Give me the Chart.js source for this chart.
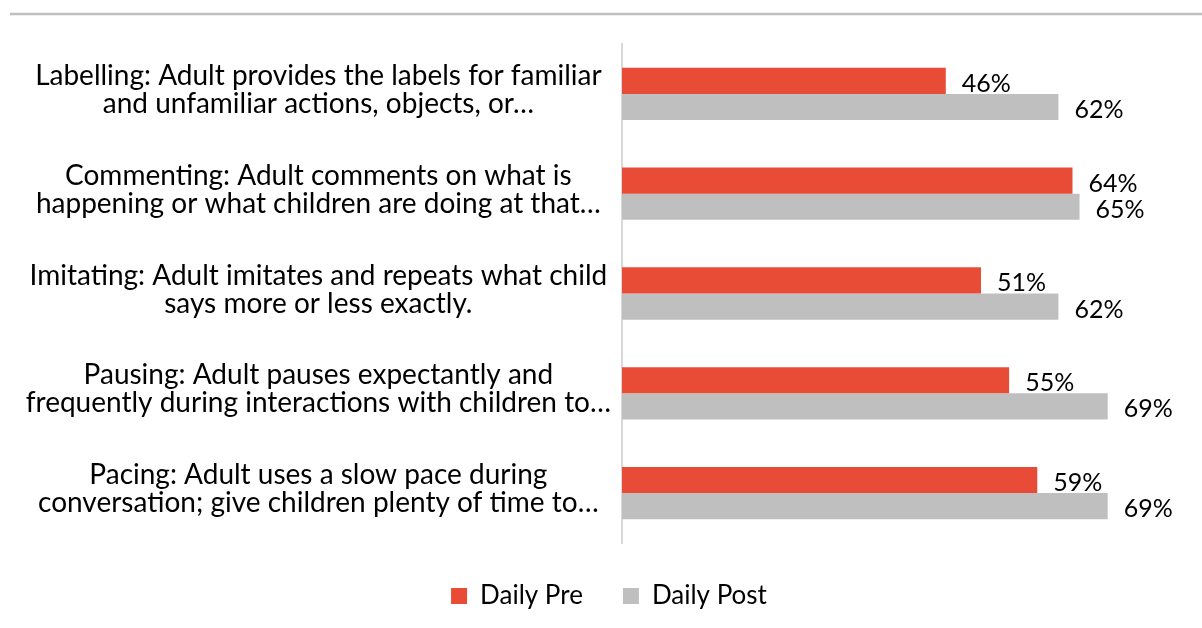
<!DOCTYPE html>
<html>
<head>
<meta charset="utf-8">
<title>Daily Pre / Daily Post</title>
<script src="https://cdn.jsdelivr.net/npm/chart.js@4.4.1/dist/chart.umd.min.js"></script>
<style>
  html, body { margin: 0; padding: 0; background: #ffffff; }
  #wrap { width: 1202px; height: 628px; position: relative; }
</style>
</head>
<body>
<div id="wrap"><canvas id="strategyChart"></canvas></div>
<script>
// Categorías (dos líneas cada una) y valores en porcentaje
const categories = [
    ['Labelling: Adult provides the labels for familiar', 'and unfamiliar actions, objects, or…'],
    ['Commenting: Adult comments on what is', 'happening or what children are doing at that…'],
    ['Imitating: Adult imitates and repeats what child', 'says more or less exactly.'],
    ['Pausing: Adult pauses expectantly and', 'frequently during interactions with children to…'],
    ['Pacing: Adult uses a slow pace during', 'conversation; give children plenty of time to…']
];
const seriesNames = ['Daily Pre', 'Daily Post'];
const dailyPre = [46, 64, 51, 55, 59];
const dailyPost = [62, 65, 62, 69, 69];

const FONT = 'Lato, "Open Sans", sans-serif';

// Línea gris horizontal en la parte superior
const topRule = {
    id: 'topRule',
    beforeDraw(chart) {
        const ctx = chart.ctx;
        ctx.save();
        ctx.strokeStyle = '#bfbfbf';
        ctx.lineWidth = 2.5;
        ctx.beginPath();
        ctx.moveTo(10, 14);
        ctx.lineTo(chart.width, 14);
        ctx.stroke();
        ctx.restore();
    }
};

// Etiquetas de valor al final de cada barra
const valueLabels = {
    id: 'valueLabels',
    afterDatasetsDraw(chart) {
        const ctx = chart.ctx;
        ctx.save();
        ctx.font = '25px ' + FONT;
        ctx.fillStyle = '#000000';
        ctx.textAlign = 'left';
        ctx.textBaseline = 'alphabetic';
        chart.data.datasets.forEach((ds, i) => {
            chart.getDatasetMeta(i).data.forEach((bar, j) => {
                ctx.fillText(ds.data[j] + '%', bar.x + 16, bar.y + 11);
            });
        });
        ctx.restore();
    }
};

const ctx = document.getElementById('strategyChart').getContext('2d');

const strategyChart = new Chart(ctx, {
    type: 'bar',
    data: {
        labels: categories,
        datasets: [
            {
                label: seriesNames[0],
                data: dailyPre,
                backgroundColor: '#e94c36',
                borderWidth: 0,
                categoryPercentage: 0.524,
                barPercentage: 1.0
            },
            {
                label: seriesNames[1],
                data: dailyPost,
                backgroundColor: '#bfbfbf',
                borderWidth: 0,
                categoryPercentage: 0.524,
                barPercentage: 1.0
            }
        ]
    },
    options: {
        indexAxis: 'y',
        responsive: true,
        maintainAspectRatio: false,
        animation: false,
        layout: {
            padding: { top: 44, right: 0, bottom: 9, left: 16 }
        },
        scales: {
            x: {
                display: false,
                min: 0,
                max: 82.4
            },
            y: {
                grid: { display: false },
                border: { display: true, color: '#d9d9d9', width: 2 },
                ticks: {
                    crossAlign: 'center',
                    padding: 3,
                    labelOffset: -4,
                    color: '#000000',
                    font: { family: FONT, size: 28, lineHeight: 1.0 }
                },
                afterFit(scale) {
                    // el eje empieza en x = 622
                    scale.width = 622 - 16;
                }
            }
        },
        plugins: {
            legend: {
                position: 'bottom',
                labels: {
                    boxWidth: 16,
                    boxHeight: 16,
                    padding: 40,
                    color: '#000000',
                    font: { family: FONT, size: 26 }
                }
            },
            tooltip: { enabled: false }
        }
    },
    plugins: [topRule, valueLabels]
});
</script>
</body>
</html>
